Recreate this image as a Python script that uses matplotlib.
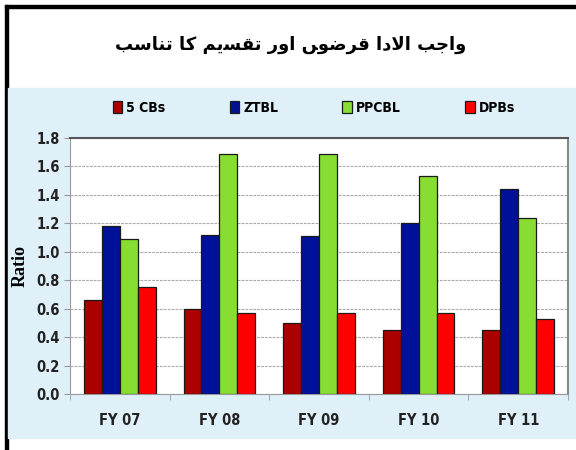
import numpy as np
import matplotlib
matplotlib.use('Agg')
import matplotlib.pyplot as plt
from matplotlib.patches import Rectangle

# data
years = ['FY 07', 'FY 08', 'FY 09', 'FY 10', 'FY 11']
cbs5 = [0.66, 0.60, 0.50, 0.45, 0.45]
ztbl = [1.18, 1.12, 1.11, 1.20, 1.44]
ppcbl = [1.09, 1.69, 1.69, 1.535, 1.235]
dpbs = [0.755, 0.57, 0.57, 0.57, 0.525]
series_names = ['5 CBs', 'ZTBL', 'PPCBL', 'DPBs']
colors = ['#aa0000', '#001199', '#88dd33', '#ff0000']

# title: "واجب الادا قرضوں اور تقسیم کا تناسب"
# pre-shaped into presentation forms, in visual order (matplotlib does no Arabic shaping)
title_logical = ('\ufeed\ufe8d\ufe9f\ufe90 '
                 '\ufe8d\ufefb\ufea9\ufe8d '
                 '\ufed7\ufeae\ufebf\ufeee\ufb9f '
                 '\ufe8d\ufeed\ufead '
                 '\ufe97\ufed8\ufeb4\ufbfe\ufee2 '
                 '\ufb90\ufe8e '
                 '\ufe97\ufee8\ufe8e\ufeb3\ufe90')
title_visual = title_logical[::-1]

narrow = ['Liberation Sans Narrow', 'DejaVu Sans']
tick_font = dict(family=narrow, fontsize=10.5, fontweight='bold', fontstretch='condensed',
                 color='#222222')

fig = plt.figure(figsize=(5.76, 4.5), dpi=100)

# outer black frame (left and top) and light blue panel
fig.patches.append(Rectangle((5 / 576, 0), 3 / 576, 445 / 450, transform=fig.transFigure,
                             color='black', zorder=-2))
fig.patches.append(Rectangle((5 / 576, 442 / 450), 571 / 576, 3 / 450, transform=fig.transFigure,
                             color='black', zorder=-2))
fig.patches.append(Rectangle((8 / 576, 12 / 450), 568 / 576, 350 / 450, transform=fig.transFigure,
                             color='#dff0f9', zorder=-2))

fig.text(0.505, 0.9, title_visual, ha='center', va='center', fontsize=13,
         fontweight='bold', family=['DejaVu Sans'])

ax = fig.add_axes([70 / 576, 56 / 450, 498 / 576, 256 / 450])
ax.set_zorder(1)
ax.set_facecolor('white')

x = np.arange(len(years))
width = 0.18
for i, (vals, name, c) in enumerate(zip([cbs5, ztbl, ppcbl, dpbs], series_names, colors)):
    ax.bar(x + (i - 1.5) * width, vals, width, color=c, edgecolor='#1a1a1a',
           linewidth=0.9, label=name, zorder=3)

ax.set_xlim(-0.5, len(years) - 0.5)
ax.set_ylim(0, 1.8)
yt = np.arange(0, 1.81, 0.2)
ax.set_yticks(yt)
ax.set_yticklabels([f'{v:.1f}' for v in yt], **tick_font)
ax.set_xticks(x)
ax.set_xticklabels(years, **tick_font)
ax.tick_params(axis='x', length=0, pad=14)
ax.set_xticks(np.arange(-0.5, len(years), 1), minor=True)
ax.tick_params(axis='x', which='minor', length=4, color='#999999')
ax.tick_params(axis='y', length=4, color='#999999')

ax.yaxis.grid(True, linestyle=(0, (2.5, 1)), color='#aaaaaa', linewidth=0.8, zorder=0)
ax.set_axisbelow(True)
for side in ['left', 'bottom']:
    ax.spines[side].set_color('#999999')
ax.spines['top'].set_color('#555555')
ax.spines['right'].set_color('#888888')
ax.spines['top'].set_linewidth(1.5)
ax.spines['right'].set_linewidth(1.5)

ax.set_ylabel('Ratio', family=['Liberation Serif'], fontweight='bold', fontsize=13, labelpad=5)

fig.legend(loc='center', bbox_to_anchor=(0.545, 342 / 450), ncol=4, frameon=False,
           prop={'family': narrow, 'size': 10, 'weight': 'bold', 'stretch': 'condensed'},
           handlelength=0.7, handleheight=1.0, handletextpad=0.3, columnspacing=4.6)

fig.savefig('out.png', dpi=100)
